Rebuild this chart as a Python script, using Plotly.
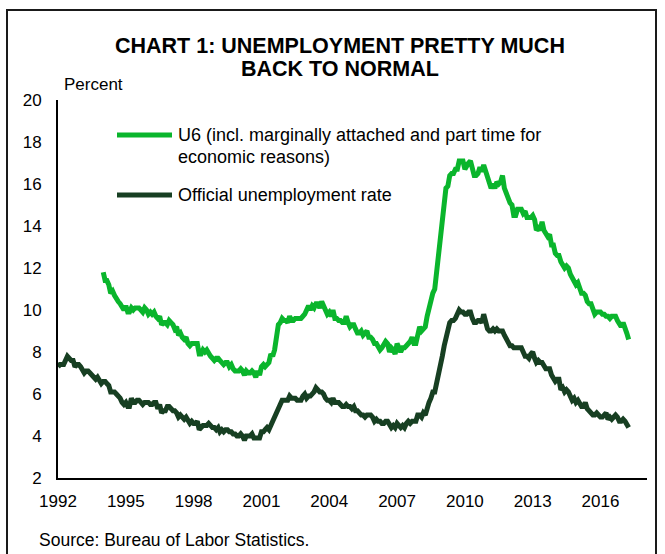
import pandas as pd
import plotly.graph_objects as go

# Official unemployment rate, monthly, Jan 1992 - Apr 2017 (percent)
official = [
    7.3, 7.4, 7.4, 7.4, 7.6, 7.8, 7.7, 7.6, 7.6, 7.3, 7.4, 7.4,   # 1992
    7.3, 7.1, 7.0, 7.1, 7.1, 7.0, 6.9, 6.8, 6.7, 6.8, 6.6, 6.5,   # 1993
    6.6, 6.6, 6.5, 6.4, 6.1, 6.1, 6.1, 6.0, 5.9, 5.8, 5.6, 5.5,   # 1994
    5.6, 5.4, 5.4, 5.8, 5.6, 5.6, 5.7, 5.7, 5.6, 5.5, 5.6, 5.6,   # 1995
    5.6, 5.5, 5.5, 5.6, 5.6, 5.3, 5.5, 5.1, 5.2, 5.2, 5.4, 5.4,   # 1996
    5.3, 5.2, 5.2, 5.1, 4.9, 5.0, 4.9, 4.8, 4.9, 4.7, 4.6, 4.7,   # 1997
    4.6, 4.6, 4.7, 4.3, 4.4, 4.5, 4.5, 4.5, 4.6, 4.5, 4.4, 4.4,   # 1998
    4.3, 4.4, 4.2, 4.3, 4.2, 4.3, 4.3, 4.2, 4.2, 4.1, 4.1, 4.0,   # 1999
    4.0, 4.1, 4.0, 3.8, 4.0, 4.0, 4.0, 4.1, 3.9, 3.9, 3.9, 3.9,   # 2000
    4.2, 4.2, 4.3, 4.4, 4.3, 4.5, 4.6, 4.9, 5.0, 5.3, 5.5, 5.7,   # 2001
    5.7, 5.7, 5.7, 5.9, 5.8, 5.8, 5.8, 5.7, 5.7, 5.7, 5.9, 6.0,   # 2002
    5.8, 5.9, 5.9, 6.0, 6.1, 6.3, 6.2, 6.1, 6.1, 6.0, 5.8, 5.7,   # 2003
    5.7, 5.6, 5.8, 5.6, 5.6, 5.6, 5.5, 5.4, 5.4, 5.5, 5.4, 5.4,   # 2004
    5.3, 5.4, 5.2, 5.2, 5.1, 5.0, 5.0, 4.9, 5.0, 5.0, 5.0, 4.9,   # 2005
    4.7, 4.8, 4.7, 4.7, 4.6, 4.6, 4.7, 4.7, 4.5, 4.4, 4.5, 4.4,   # 2006
    4.6, 4.5, 4.4, 4.5, 4.4, 4.6, 4.7, 4.6, 4.7, 4.7, 4.7, 5.0,   # 2007
    5.0, 4.9, 5.1, 5.0, 5.4, 5.6, 5.8, 6.1, 6.1, 6.5, 6.8, 7.3,   # 2008
    7.8, 8.3, 8.7, 9.0, 9.4, 9.5, 9.5, 9.6, 9.8, 10.0, 9.9, 9.9,  # 2009
    9.8, 9.8, 9.9, 9.9, 9.6, 9.4, 9.4, 9.5, 9.5, 9.4, 9.8, 9.3,   # 2010
    9.1, 9.0, 9.0, 9.1, 9.0, 9.1, 9.0, 9.0, 9.0, 8.8, 8.6, 8.5,   # 2011
    8.3, 8.3, 8.2, 8.2, 8.2, 8.2, 8.2, 8.0, 7.8, 7.8, 7.7, 7.9,   # 2012
    8.0, 7.7, 7.5, 7.6, 7.5, 7.5, 7.3, 7.2, 7.2, 7.2, 6.9, 6.7,   # 2013
    6.6, 6.7, 6.7, 6.2, 6.3, 6.1, 6.2, 6.1, 5.9, 5.7, 5.8, 5.6,   # 2014
    5.7, 5.5, 5.4, 5.4, 5.6, 5.3, 5.2, 5.1, 5.0, 5.0, 5.1, 5.0,   # 2015
    4.9, 4.9, 5.0, 5.1, 4.8, 4.9, 4.8, 4.9, 5.0, 4.9, 4.7, 4.7,   # 2016
    4.8, 4.7, 4.5, 4.4,                                           # 2017
]

# U6 rate, monthly, Jan 1994 - Apr 2017 (percent)
u6 = [
    11.8, 11.4, 11.4, 11.2, 10.8, 10.9, 10.7, 10.5, 10.4, 10.3, 10.1, 10.0,  # 1994
    10.2, 9.9, 9.9, 10.1, 10.0, 10.1, 10.1, 10.1, 10.0, 9.9, 10.1, 10.0,     # 1995
    9.8, 9.9, 9.8, 9.9, 9.7, 9.6, 9.7, 9.3, 9.4, 9.4, 9.3, 9.5,              # 1996
    9.4, 9.3, 9.1, 9.2, 8.8, 8.9, 8.7, 8.6, 8.7, 8.4, 8.3, 8.4,              # 1997
    8.4, 8.4, 8.4, 7.9, 7.9, 8.1, 8.0, 8.1, 7.9, 7.8, 7.7, 7.6,              # 1998
    7.7, 7.7, 7.6, 7.5, 7.4, 7.5, 7.5, 7.3, 7.4, 7.2, 7.1, 7.1,              # 1999
    7.1, 7.2, 7.1, 6.9, 7.1, 7.0, 7.0, 7.1, 7.0, 6.8, 7.1, 6.9,              # 2000
    7.3, 7.4, 7.3, 7.4, 7.5, 7.9, 7.8, 8.1, 8.7, 9.3, 9.4, 9.6,              # 2001
    9.5, 9.5, 9.4, 9.7, 9.5, 9.5, 9.6, 9.6, 9.6, 9.6, 9.7, 9.8,              # 2002
    10.0, 10.2, 10.0, 10.2, 10.1, 10.3, 10.3, 10.1, 10.4, 10.2, 10.0, 9.8,   # 2003
    9.9, 9.7, 10.0, 9.6, 9.6, 9.5, 9.5, 9.4, 9.4, 9.7, 9.4, 9.2,             # 2004
    9.3, 9.3, 9.1, 8.9, 8.9, 9.0, 8.8, 8.9, 9.0, 8.7, 8.7, 8.6,              # 2005
    8.4, 8.4, 8.2, 8.1, 8.2, 8.4, 8.5, 8.4, 8.0, 8.2, 8.1, 7.9,              # 2006
    8.4, 8.2, 8.0, 8.2, 8.2, 8.3, 8.4, 8.5, 8.7, 8.4, 8.4, 8.8,              # 2007
    9.2, 9.0, 9.1, 9.2, 9.7, 10.1, 10.5, 10.8, 11.0, 11.8, 12.6, 13.6,       # 2008
    14.2, 15.2, 15.8, 15.9, 16.4, 16.5, 16.5, 16.7, 16.7, 17.1, 17.1, 17.1,  # 2009
    16.7, 16.9, 17.0, 17.1, 16.6, 16.4, 16.4, 16.5, 16.8, 16.6, 16.9, 16.6,  # 2010
    16.2, 16.0, 15.8, 16.0, 15.8, 16.1, 16.0, 16.1, 16.4, 15.8, 15.5, 15.2,  # 2011
    15.1, 15.0, 14.5, 14.5, 14.8, 14.8, 14.8, 14.6, 14.7, 14.4, 14.4, 14.4,  # 2012
    14.5, 14.3, 13.8, 13.9, 13.8, 14.2, 13.8, 13.6, 13.5, 13.6, 13.1, 13.1,  # 2013
    12.7, 12.6, 12.6, 12.3, 12.1, 12.0, 12.1, 12.0, 11.7, 11.5, 11.4, 11.2,  # 2014
    11.3, 10.9, 10.8, 10.8, 10.7, 10.4, 10.3, 10.3, 10.0, 9.8, 9.9, 9.9,     # 2015
    9.9, 9.8, 9.8, 9.7, 9.7, 9.6, 9.7, 9.7, 9.7, 9.5, 9.3, 9.2,              # 2016
    9.4, 9.2, 8.9, 8.6,                                                      # 2017
]

official_dates = pd.date_range("1992-01-01", periods=len(official), freq="MS")
u6_dates = pd.date_range("1994-01-01", periods=len(u6), freq="MS")

tick_years = [1992, 1995, 1998, 2001, 2004, 2007, 2010, 2013, 2016]
tick_vals = [f"{y}-01-01" for y in tick_years]
tick_text = [str(y) for y in tick_years]
y_ticks = [2, 4, 6, 8, 10, 12, 14, 16, 18, 20]

title_lines = ["CHART 1: UNEMPLOYMENT PRETTY MUCH", "BACK TO NORMAL"]
u6_label = ["U6 (incl. marginally attached and part time for", "economic reasons)"]
official_label = "Official unemployment rate"
source_text = "Source: Bureau of Labor Statistics."

U6_COLOR = "#0AB52C"
OFF_COLOR = "#173F22"
FONT = "Liberation Sans, Arial, sans-serif"

W, H = 665, 554
L, R, T, B = 58, 18, 100, 76
PW, PH = W - L - R, H - T - B


def px(x):
    return (x - L) / PW


def py(y):
    return (H - B - y) / PH


fig = go.Figure()
fig.add_trace(go.Scatter(x=u6_dates, y=u6, mode="lines",
                         line=dict(color=U6_COLOR, width=5), showlegend=False))
fig.add_trace(go.Scatter(x=official_dates, y=official, mode="lines",
                         line=dict(color=OFF_COLOR, width=5), showlegend=False))

annotations = [
    dict(text=f"<b>{title_lines[0]}</b>", x=px(340), y=py(46), font=dict(size=21.5)),
    dict(text=f"<b>{title_lines[1]}</b>", x=px(340), y=py(69), font=dict(size=21.5)),
    dict(text="Percent", x=px(62), y=py(84), xanchor="left", font=dict(size=17)),
    dict(text=u6_label[0], x=px(176), y=py(135), xanchor="left", font=dict(size=18)),
    dict(text=u6_label[1], x=px(176), y=py(157), xanchor="left", font=dict(size=18)),
    dict(text=official_label, x=px(176), y=py(195), xanchor="left", font=dict(size=18)),
    dict(text=source_text, x=px(37), y=py(540), xanchor="left", font=dict(size=17.5)),
]
for a in annotations:
    a.update(xref="paper", yref="paper", showarrow=False, yanchor="middle")
    a.setdefault("xanchor", "center")
    a["font"].update(family=FONT, color="#000000")

shapes = [
    dict(type="line", xref="paper", yref="paper", x0=px(117), x1=px(172),
         y0=py(135), y1=py(135), line=dict(color=U6_COLOR, width=5)),
    dict(type="line", xref="paper", yref="paper", x0=px(117), x1=px(172),
         y0=py(195), y1=py(195), line=dict(color=OFF_COLOR, width=5)),
    dict(type="rect", xref="paper", yref="paper", x0=px(7), x1=px(656),
         y0=py(600), y1=py(10), line=dict(color="#1a1a1a", width=2)),
]

fig.update_layout(
    width=W, height=H,
    margin=dict(l=L, r=R, t=T, b=B, pad=0),
    paper_bgcolor="white", plot_bgcolor="white",
    font=dict(family=FONT, size=17, color="#000000"),
    annotations=annotations, shapes=shapes,
    showlegend=False,
)
fig.update_xaxes(
    type="date", range=["1992-01-01", "2018-01-22"],
    tickvals=tick_vals, ticktext=tick_text, ticks="",
    showgrid=False, zeroline=False, showline=True, linecolor="black", linewidth=2,
    tickfont=dict(size=17), ticklabelstandoff=7,
)
fig.update_yaxes(
    range=[2, 20], tickvals=y_ticks, ticks="",
    showgrid=False, zeroline=False, showline=True, linecolor="black", linewidth=2,
    tickfont=dict(size=17), ticklabelstandoff=11,
)

fig.write_html("out.html", config={"displayModeBar": False},
               post_script="document.body.style.margin='0px';")
